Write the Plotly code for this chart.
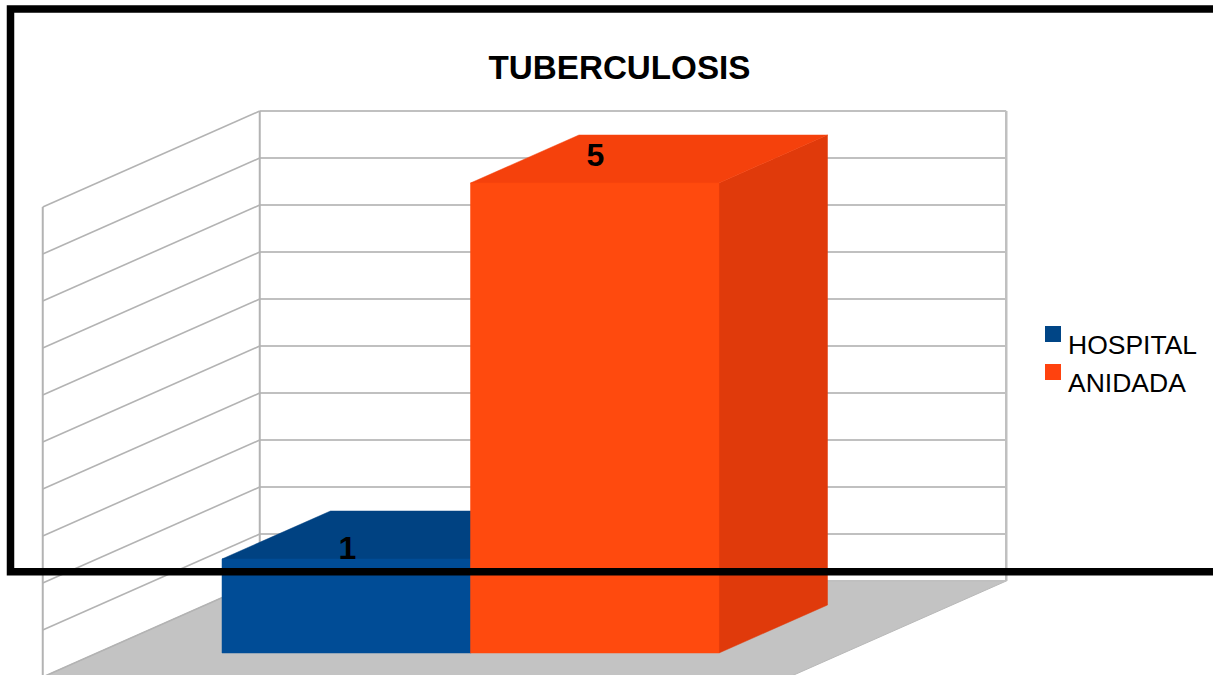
import plotly.graph_objects as go

# ---- data ----
title = "TUBERCULOSIS"
series = ["HOSPITAL", "ANIDADA"]
values = [1, 5]
axis_ticks = [0, 0.5, 1, 1.5, 2, 2.5, 3, 3.5, 4, 4.5, 5]

# ---- styles ----
front_colors = ["#004c96", "#ff4a0e"]
top_colors = ["#004282", "#f5410c"]
side_colors = ["#003b73", "#e03a0b"]
legend_colors = ["#004586", "#ff420e"]
label_offsets = [(0.005, 0.087), (0.003, 0.268)]
FONT = "Liberation Sans"
W, H = 1213, 675

# Value axis: 94 px per unit, baseline at pixel 653. Category axis: 248.5 px per bar, bar 0 at pixel 222.
PX_U, X0, PX_V, Y0 = 248.5, 222.0, 94.0, 653.0
DX, DY = 108.5 / PX_U, 48.0 / PX_V      # oblique shift for one bar depth


def px(x):
    return (x - X0) / PX_U


def py(y):
    return (Y0 - y) / PX_V


def proj(u, v, d):
    return u + d * DX, v + d * DY


fig = go.Figure()


def poly(points, fill, line=None):
    xs, ys = zip(*[proj(*p) for p in points])
    fig.add_trace(go.Scatter(
        x=list(xs) + [xs[0]], y=list(ys) + [ys[0]], mode="lines", fill="toself",
        fillcolor=fill, line=dict(color=line or fill, width=1 if line else 0.5),
        hoverinfo="skip", showlegend=False))


def seg(points, color, width):
    xs, ys = zip(*[proj(*p) for p in points])
    fig.add_trace(go.Scatter(x=xs, y=ys, mode="lines", line=dict(color=color, width=width),
                             hoverinfo="skip", showlegend=False))


U_L, U_R = px(97.0), px(843.5)   # floor extent along the category axis
D_F, D_B = -0.5, 1.5             # floor extent along depth
V_MAX = axis_ticks[-1]

# floor
poly([(U_L, 0, D_F), (U_R, 0, D_F), (U_R, 0, D_B), (U_L, 0, D_B)], "#c3c3c3", "#b8b8b8")

# back wall and side wall grid
for t in axis_ticks:
    seg([(U_L, t, D_F), (U_L, t, D_B)], "#b3b3b3", 1.6)
    seg([(U_L, t, D_B), (U_R, t, D_B)], "#c0c0c0", 2)
seg([(U_L, 0, D_F), (U_L, V_MAX, D_F)], "#b3b3b3", 2)
seg([(U_L, 0, D_B), (U_L, V_MAX, D_B)], "#b3b3b3", 2)
seg([(U_R, 0, D_B), (U_R, V_MAX, D_B)], "#c0c0c0", 2.5)

# bars
for i, v in enumerate(values):
    a, b = i, i + 1
    poly([(b, 0, 0), (b, 0, 1), (b, v, 1), (b, v, 0)], side_colors[i])
    poly([(a, v, 0), (b, v, 0), (b, v, 1), (a, v, 1)], top_colors[i])
    poly([(a, 0, 0), (b, 0, 0), (b, v, 0), (a, v, 0)], front_colors[i])

# black frame
fig.add_trace(go.Scatter(
    x=[px(1240), px(10.5), px(10.5), px(1240)], y=[py(9), py(9), py(571.7), py(571.7)],
    mode="lines", line=dict(color="#000000", width=7.5), hoverinfo="skip", showlegend=False))

# value labels
for i, v in enumerate(values):
    ox, oy = label_offsets[i]
    fig.add_trace(go.Scatter(
        x=[i + 0.5 + ox], y=[v + oy], mode="text", text=[str(v)], textposition="middle center",
        textfont=dict(family=FONT, size=32, color="#000000"),
        texttemplate="<b>%{text}</b>", hoverinfo="skip", showlegend=False))

# legend
for i, name in enumerate(series):
    fig.add_trace(go.Scatter(
        x=[px(1053)], y=[py(334 + 38 * i)], mode="markers",
        marker=dict(symbol="square", size=16, color=legend_colors[i], line=dict(width=0)),
        hoverinfo="skip", showlegend=False))
    fig.add_annotation(x=px(1068), y=py(345 + 38 * i), text=name, showarrow=False,
                       xanchor="left", yanchor="middle", xshift=-2,
                       font=dict(family=FONT, size=26.5, color="#000000"))

fig.update_layout(
    width=W, height=H, margin=dict(l=0, r=0, t=0, b=0), autosize=False,
    paper_bgcolor="#ffffff", plot_bgcolor="#ffffff", showlegend=False,
    title=dict(text=f"<b>{title}</b>", x=619.5 / W, y=1 - 67 / H, xanchor="center", yanchor="middle",
               font=dict(family=FONT, size=33.2, color="#000000")),
    xaxis=dict(range=[px(0), px(W)], visible=False, fixedrange=True),
    yaxis=dict(range=[py(H), py(0)], visible=False, fixedrange=True),
)
fig.write_html("out.html", config={"displayModeBar": False},
               post_script="document.body.style.margin='0';document.body.style.overflow='hidden';")
